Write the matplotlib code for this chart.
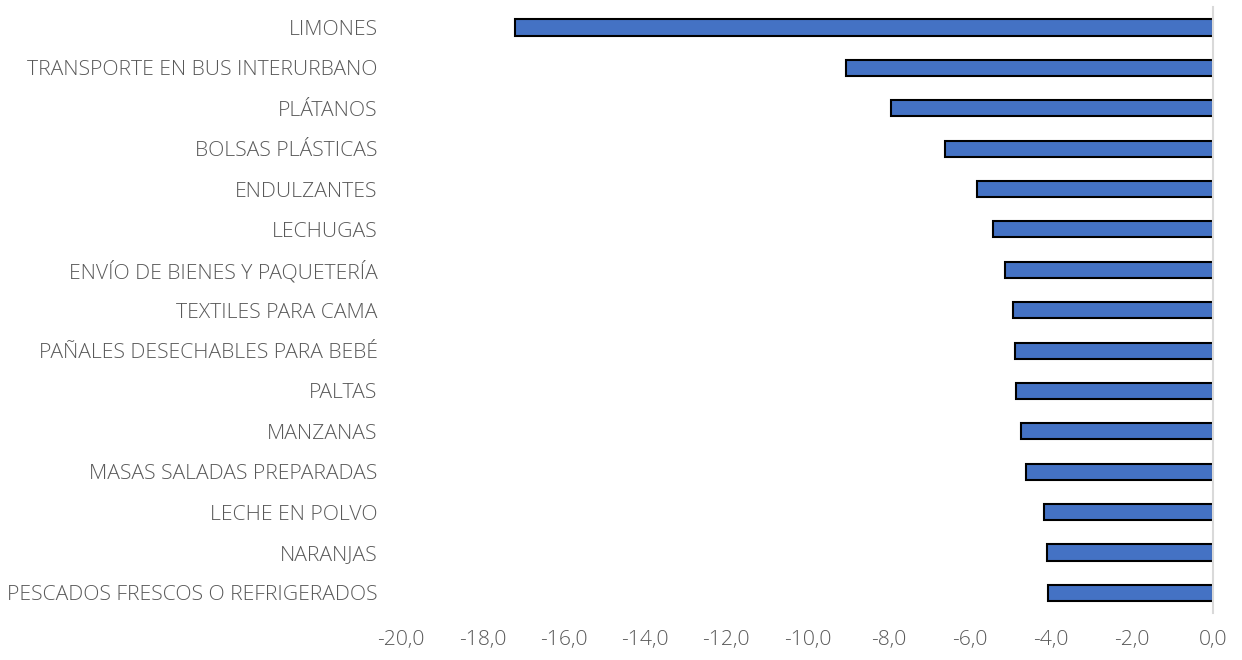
import matplotlib.pyplot as plt

# Categories (top to bottom) and their variation values
categories = ["LIMONES", "TRANSPORTE EN BUS INTERURBANO", "PLÁTANOS", "BOLSAS PLÁSTICAS",
              "ENDULZANTES", "LECHUGAS", "ENVÍO DE BIENES Y PAQUETERÍA", "TEXTILES PARA CAMA",
              "PAÑALES DESECHABLES PARA BEBÉ", "PALTAS", "MANZANAS", "MASAS SALADAS PREPARADAS",
              "LECHE EN POLVO", "NARANJAS", "PESCADOS FRESCOS O REFRIGERADOS"]
values = [-17.2, -9.05, -7.95, -6.6, -5.83, -5.42, -5.12, -4.93,
          -4.88, -4.85, -4.75, -4.62, -4.16, -4.11, -4.08]
xticks = [-20, -18, -16, -14, -12, -10, -8, -6, -4, -2, 0]

plt.rcParams['font.family'] = ['Open Sans', 'DejaVu Sans']
plt.rcParams['font.weight'] = 'light'

fig = plt.figure(figsize=(12.42, 6.6), dpi=100)
ax = fig.add_axes([0.323, 0.071, 0.654, 0.918])

ypos = list(range(len(categories)))
ax.barh(ypos, values, height=0.4, color="#4472C4", edgecolor="black", linewidth=1.5)

ax.set_xlim(-20, 0)
ax.set_ylim(len(categories) - 0.5, -0.5)
ax.set_yticks(ypos)
ax.set_yticklabels(categories, fontsize=15.2, color="#595959")
ax.set_xticks(xticks)
ax.set_xticklabels([("%.1f" % t).replace(".", ",") for t in xticks], fontsize=15.2, color="#595959")
ax.tick_params(length=0)
ax.tick_params(axis="y", pad=17)
ax.tick_params(axis="x", pad=12)

for side in ["top", "bottom", "left"]:
    ax.spines[side].set_visible(False)
ax.spines["right"].set_color("#D9D9D9")
ax.spines["right"].set_linewidth(1.5)

fig.savefig("out.png", dpi=100)
